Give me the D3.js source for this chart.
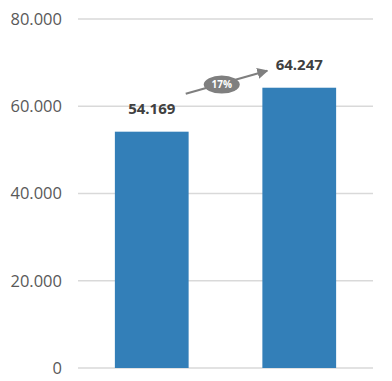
<!DOCTYPE html>
<html><head><meta charset="utf-8">
<script src="https://cdn.jsdelivr.net/npm/d3@7"></script>
<style>body{margin:0;background:#fff}svg{display:block}</style>
</head><body>
<svg id="c" width="392" height="381"></svg>
<script>
const categories = ["A", "B"];
const values = [54169, 64247];
const valueLabels = ["54.169", "64.247"];
const yTicks = [0, 20000, 40000, 60000, 80000];
const yTickLabels = ["0", "20.000", "40.000", "60.000", "80.000"];
const changeLabel = "17%";

const svg = d3.select("#c");
const x = d3.scaleBand().domain(categories).range([78, 373]).paddingInner(0.5).paddingOuter(0.25);
const y = d3.scaleLinear().domain([0, 80000]).range([368, 19]);

svg.append("g").selectAll("line").data(yTicks).join("line")
  .attr("x1", 78).attr("x2", 373)
  .attr("y1", d => y(d)).attr("y2", d => y(d))
  .attr("stroke", "#d9d9d9").attr("stroke-width", 1.5);

svg.append("g").selectAll("text").data(yTicks).join("text")
  .attr("x", 62).attr("y", d => y(d)).attr("dy", "0.35em")
  .attr("text-anchor", "end").attr("fill", "#595959")
  .attr("font-family", "Open Sans, sans-serif").attr("font-size", 16.5)
  .text((d, i) => yTickLabels[i]);

svg.append("g").selectAll("rect").data(values).join("rect")
  .attr("x", (d, i) => x(categories[i])).attr("width", x.bandwidth())
  .attr("y", d => y(d)).attr("height", d => y(0) - y(d))
  .attr("fill", "#337fb8");

svg.append("g").selectAll("text").data(values).join("text")
  .attr("x", (d, i) => x(categories[i]) + x.bandwidth() / 2)
  .attr("y", d => y(d) - 23).attr("dy", "0.35em")
  .attr("text-anchor", "middle").attr("fill", "#404040")
  .attr("font-family", "Open Sans, sans-serif").attr("font-weight", "bold").attr("font-size", 15)
  .text((d, i) => valueLabels[i]);

// arrow
const defs = svg.append("defs");
defs.append("marker").attr("id", "ah").attr("viewBox", "0 0 10 10")
  .attr("refX", 9).attr("refY", 5).attr("markerWidth", 5).attr("markerHeight", 5)
  .attr("orient", "auto").attr("markerUnits", "strokeWidth")
  .append("path").attr("d", "M0,0 L10,5 L0,10 z").attr("fill", "#7f7f7f");

const x0 = x(categories[0]) + x.bandwidth() / 2 + 34, y0 = y(values[0]) - 38;
const x1 = x(categories[1]) + x.bandwidth() / 2 - 32, y1 = y(values[1]) - 17;
svg.append("line").attr("x1", x0).attr("y1", y0).attr("x2", x1).attr("y2", y1)
  .attr("stroke", "#7f7f7f").attr("stroke-width", 2.2).attr("marker-end", "url(#ah)");

const cx = x0 + 36, cy = y0 + (y1 - y0) * (36 / (x1 - x0)) + 1;
svg.append("ellipse").attr("cx", cx).attr("cy", cy).attr("rx", 18).attr("ry", 9).attr("fill", "#7f7f7f");
svg.append("text").attr("x", cx).attr("y", cy).attr("dy", "0.35em").attr("text-anchor", "middle")
  .attr("fill", "#fff").attr("font-family", "Open Sans, sans-serif").attr("font-weight", "bold").attr("font-size", 10)
  .text(changeLabel);
</script>
</body></html>
